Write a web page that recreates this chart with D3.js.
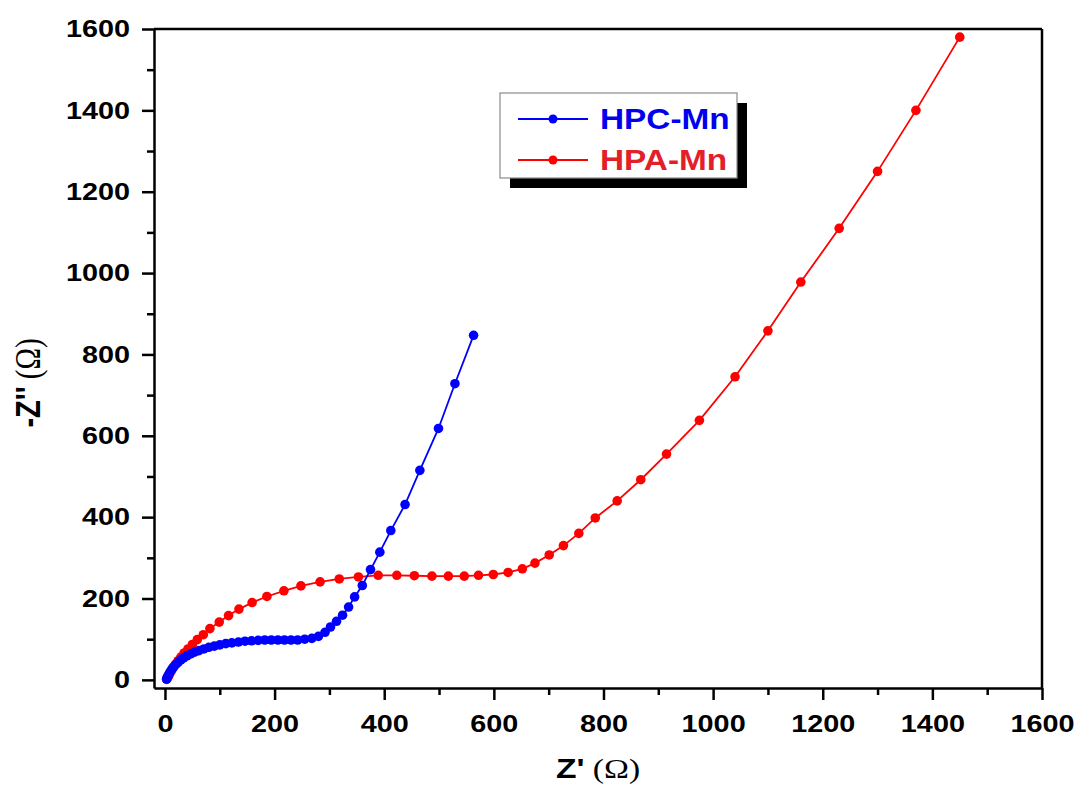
<!DOCTYPE html>
<html lang="en">
<head>
<meta charset="UTF-8"/>
<title>Nyquist plot HPC-Mn / HPA-Mn</title>
<script type="text/javascript" src="https://d3js.org/d3.v7.min.js"></script>
<style>
body { margin: 0; background: #fff; }
.axis path, .axis line { stroke: #000; }
.axis text { font-family: "Liberation Sans", Arial, sans-serif; font-weight: bold; font-size: 24px; fill: #000; }
</style>
</head>
<body>
<svg id="viz"></svg>
<script type="text/javascript">
var width = 1079,
    height = 785;

// HPC-Mn  (Z', -Z'')
var hpcZre = [3, 4, 6, 8, 10, 13, 16, 20, 24, 29, 34, 40, 47, 54, 62, 71, 80, 90, 100, 111, 122, 134, 146, 158, 170, 182, 194, 206, 218, 230, 242, 255, 268, 280, 292, 302, 313, 324, 335, 346, 360, 375, 392, 412, 438, 465, 499, 529, 563];
var hpcZim = [2, 6, 11, 16, 21, 27, 32, 38, 43, 49, 54, 59, 64, 68, 72, 76, 80, 83, 86, 89, 91, 93, 95, 96, 97, 98, 98, 98, 98, 98, 98, 100, 102, 107, 117, 130, 144, 159, 179, 204, 232, 271, 314, 367, 431, 515, 618, 728, 847];

// HPA-Mn
var hpaZre = [3, 5, 7, 9, 12, 15, 19, 24, 29, 35, 42, 50, 59, 70, 82, 99, 116, 135, 159, 186, 217, 248, 283, 318, 353, 389, 423, 455, 487, 517, 546, 572, 599, 626, 652, 675, 701, 727, 755, 785, 825, 868, 915, 975, 1040, 1100, 1160, 1230, 1300, 1370, 1450];
var hpaZim = [1, 5, 10, 16, 23, 30, 38, 47, 56, 66, 76, 87, 99, 111, 126, 142, 158, 174, 190, 205, 219, 231, 241, 248, 253, 257, 257, 256, 255, 255, 255, 257, 259, 264, 273, 287, 307, 330, 360, 398, 440, 492, 555, 638, 745, 858, 978, 1110, 1250, 1400, 1580];

var xTicks = [0, 200, 400, 600, 800, 1000, 1200, 1400, 1600];
var yTicks = [0, 200, 400, 600, 800, 1000, 1200, 1400, 1600];
var seriesNames = ["HPC-Mn", "HPA-Mn"];
var seriesColors = ["#0000ff", "#ff0000"];
var legendTextColors = ["#0000ee", "#e3202a"];

var svg = d3.select("#viz")
    .attr("width", width)
    .attr("height", height);

var plot = {left: 154, right: 1042, top: 29, bottom: 688};

var x = d3.scaleLinear().domain([-20, 1600]).range([plot.left, plot.right]);
var y = d3.scaleLinear().domain([-20, 1600]).range([plot.bottom, plot.top]);

var minorX = d3.range(100, 1600, 200);
var minorY = d3.range(100, 1600, 200);

//////////// AXES ////////////
svg.append("g").attr("class", "axis")
    .attr("transform", "translate(0," + plot.bottom + ")")
    .call(d3.axisBottom(x).tickValues(minorX).tickSize(7).tickFormat(""))
    .call(function(g) { g.select(".domain").remove(); })
    .selectAll("line").attr("stroke-width", 2.5);

var xAxis = svg.append("g").attr("class", "axis")
    .attr("transform", "translate(0," + plot.bottom + ")")
    .call(d3.axisBottom(x).tickValues(xTicks).tickSize(12).tickSizeOuter(0).tickFormat(d3.format("d")));
xAxis.selectAll("line").attr("stroke-width", 2.5);
xAxis.select(".domain").attr("stroke-width", 2.5);
xAxis.selectAll("text")
    .attr("y", 27)
    .attr("transform", "scale(1.2,1)");

svg.append("g").attr("class", "axis")
    .attr("transform", "translate(" + plot.left + ",0)")
    .call(d3.axisLeft(y).tickValues(minorY).tickSize(7).tickFormat(""))
    .call(function(g) { g.select(".domain").remove(); })
    .selectAll("line").attr("stroke-width", 2.5);

var yAxis = svg.append("g").attr("class", "axis")
    .attr("transform", "translate(" + plot.left + ",0)")
    .call(d3.axisLeft(y).tickValues(yTicks).tickSize(12).tickSizeOuter(0).tickFormat(d3.format("d")));
yAxis.selectAll("line").attr("stroke-width", 2.5);
yAxis.select(".domain").attr("stroke-width", 2.5);
yAxis.selectAll("text")
    .attr("x", -20)
    .attr("transform", "scale(1.2,1)");

// top and right frame
svg.append("line")
    .attr("x1", plot.left).attr("x2", plot.right)
    .attr("y1", plot.top).attr("y2", plot.top)
    .attr("stroke", "#000").attr("stroke-width", 2.5);
svg.append("line")
    .attr("x1", plot.right).attr("x2", plot.right)
    .attr("y1", plot.top).attr("y2", plot.bottom)
    .attr("stroke", "#000").attr("stroke-width", 2.5);

//////////// SERIES ////////////
var line = d3.line()
    .x(function(d) { return x(d[0]); })
    .y(function(d) { return y(d[1]); });

function drawSeries(zre, zim, color) {
    var pts = zre.map(function(v, i) { return [v, zim[i]]; });
    var g = svg.append("g");
    g.append("path")
        .datum(pts)
        .attr("d", line)
        .attr("fill", "none")
        .attr("stroke", color)
        .attr("stroke-width", 1.8);
    g.selectAll("circle")
        .data(pts)
        .enter()
        .append("circle")
        .attr("cx", function(d) { return x(d[0]); })
        .attr("cy", function(d) { return y(d[1]); })
        .attr("r", 4.8)
        .attr("fill", color);
}
drawSeries(hpaZre, hpaZim, seriesColors[1]);
drawSeries(hpcZre, hpcZim, seriesColors[0]);

//////////// LEGEND ////////////
var lg = {x: 500, y: 93, w: 237, h: 85};
svg.append("rect")
    .attr("x", lg.x + 10).attr("y", lg.y + 10)
    .attr("width", lg.w).attr("height", lg.h)
    .attr("fill", "#000");
svg.append("rect")
    .attr("x", lg.x).attr("y", lg.y)
    .attr("width", lg.w).attr("height", lg.h)
    .attr("fill", "#fff")
    .attr("stroke", "#8a8a8a").attr("stroke-width", 1.2);

var legendRows = [119, 160];
seriesNames.forEach(function(name, i) {
    var ry = legendRows[i];
    svg.append("line")
        .attr("x1", 518).attr("x2", 588)
        .attr("y1", ry).attr("y2", ry)
        .attr("stroke", seriesColors[i]).attr("stroke-width", 1.8);
    svg.append("circle")
        .attr("cx", 553).attr("cy", ry).attr("r", 4.5)
        .attr("fill", seriesColors[i]);
    svg.append("text")
        .attr("transform", "translate(600," + (ry + 10) + ") scale(1.15,1)")
        .attr("font-family", "Liberation Sans, Arial, sans-serif")
        .attr("font-weight", "bold")
        .attr("font-size", 29)
        .attr("fill", legendTextColors[i])
        .text(name);
});

//////////// AXIS TITLES ////////////
var xt = svg.append("text")
    .attr("transform", "translate(" + ((plot.left + plot.right) / 2) + ",778) scale(1.2,1)")
    .attr("text-anchor", "middle")
    .attr("font-size", 28);
xt.append("tspan")
    .attr("font-family", "Liberation Sans, Arial, sans-serif")
    .attr("font-weight", "bold")
    .text("Z'");
xt.append("tspan")
    .attr("font-family", "Liberation Serif, Times New Roman, serif")
    .text(" (\u03A9)");

var yt = svg.append("text")
    .attr("transform", "translate(40,383) scale(1.2,1) rotate(-90)")
    .attr("text-anchor", "middle")
    .attr("font-size", 29);
yt.append("tspan")
    .attr("font-family", "Liberation Sans, Arial, sans-serif")
    .attr("font-weight", "bold")
    .text("-Z''");
yt.append("tspan")
    .attr("font-family", "Liberation Serif, Times New Roman, serif")
    .text(" (\u03A9)");
</script>
</body>
</html>
